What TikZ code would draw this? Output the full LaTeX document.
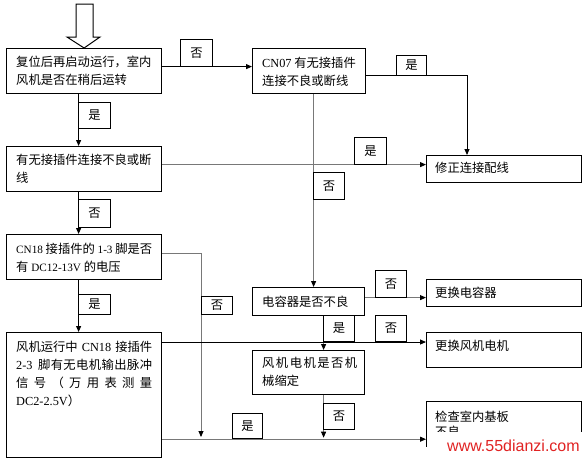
\documentclass[tikz,border=0pt]{standalone}
\usepackage{fontspec}
\setmainfont{Noto Sans CJK SC}
\newfontfamily\latf{Liberation Serif}
\newfontfamily\wmf{Liberation Sans}
\newcommand\lat[1]{{\latf #1}}
\newcommand\slat[1]{{\latf\fontsize{11.2}{18}\selectfont #1}}
\usetikzlibrary{arrows.meta}
\definecolor{lg}{RGB}{120,120,120}
\definecolor{wm}{RGB}{225,35,35}
\tikzset{
  box/.style={draw=black, line width=1.2pt, inner sep=0pt, anchor=north west},
  lab/.style={draw=black, line width=0.9pt, inner sep=0pt, anchor=north west, font=\fontsize{12.3}{14}\selectfont},
  txt/.style={inner sep=0pt, anchor=base west, font=\fontsize{12.3}{18}\selectfont},
  ln/.style={line width=0.9pt, draw=black},
  lng/.style={line width=0.9pt, draw=lg},
  arr/.style={-{Triangle[length=6pt,width=5pt,color=black]}}
}
\begin{document}
\begin{tikzpicture}[x=1pt,y=-1pt]
\useasboundingbox (0,0) rectangle (582,459);
\fill[white] (0,0) rectangle (582,459);

% boxes
\node[box, minimum width=155pt, minimum height=45pt] (A) at (6,48) {};
\node[box, minimum width=113pt, minimum height=45pt] (B) at (252,48) {};
\node[box, minimum width=155pt, minimum height=45pt] (C) at (6,146) {};
\node[box, minimum width=155pt, minimum height=45pt] (E) at (6,234) {};
\node[box, minimum width=155pt, minimum height=125pt] (G) at (6,332) {};
\node[box, minimum width=155pt, minimum height=27pt] (F) at (426,155) {};
\node[box, minimum width=112pt, minimum height=28pt] (D) at (252,287) {};
\node[box, minimum width=155pt, minimum height=27pt] (Cap) at (426,279) {};
\node[box, minimum width=112pt, minimum height=44pt] (M) at (252,350) {};
\node[box, minimum width=155pt, minimum height=35pt] (R) at (426,332) {};
\node[box, minimum width=155pt, minimum height=70pt] (K) at (426,401) {};

% texts
\node[txt] (At) at (16,66.7) {\parbox[t]{200pt}{复位后再启动运行，室内\\风机是否在稍后运转}};
\node[txt] (Bt) at (262,67.7) {\parbox[t]{200pt}{\lat{CN07} 有无接插件\\连接不良或断线}};
\node[txt] (Ct) at (16,164.7) {\parbox[t]{200pt}{有无接插件连接不良或断\\线}};
\node[txt] (Et) at (16,253.7) {\parbox[t]{200pt}{\slat{CN18} 接插件的 \slat{1-3} 脚是否\\有 \slat{DC12-13V} 的电压}};
\node[txt] (Ft) at (435,172.7) {修正连接配线};
\node[txt] (Dt) at (262,306.7) {电容器是否不良};
\node[txt] (Capt) at (435,297.7) {更换电容器};
\node[txt] (Rt) at (435,350.7) {更换风机电机};
\node[txt] (Mt) at (262,367.7) {\parbox[t]{200pt}{\makebox[95pt][s]{风\hfill 机\hfill 电\hfill 机\hfill 是\hfill 否\hfill 机}\\械缩定}};
\node[txt] (Kt) at (435,421.7) {\parbox[t]{200pt}{检查室内基板\\[-3.5pt]不良}};
\node[txt] (Gt) at (16,351.7) {\parbox[t]{200pt}{%
\makebox[136pt][s]{风机运行中\hfill\lat{CN18}\hfill 接插件}\\
\makebox[136pt][s]{\lat{2-3}\hspace{5pt}\hfill 脚\hfill 有\hfill 无\hfill 电\hfill 机\hfill 输\hfill 出\hfill 脉\hfill 冲}\\
\makebox[136pt][s]{信\hfill 号\hfill （\hfill 万\hfill 用\hfill 表\hfill 测\hfill 量}\\
\lat{DC2-2.5V}）}};

% top hollow arrow
\draw[line width=1pt, fill=white] (76,4) -- (93,4) -- (93,37) -- (100,37) -- (A.north) -- (67,37) -- (76,37) -- cycle;

% connector coordinates
\coordinate (a1) at ([yshift=4.5pt]A.east);
\coordinate (b1) at ([yshift=-4.5pt]B.east);
\coordinate (f1) at (467,155);
\coordinate (a2) at ([xshift=-5.5pt]A.south);
\coordinate (c1) at ([yshift=4.5pt]C.east);
\coordinate (b2) at ([xshift=4.5pt]B.south);
\coordinate (c2) at ([xshift=-5.5pt]C.south);
\coordinate (e1) at ([yshift=3.5pt]E.east);
\coordinate (eend) at (201,437);
\coordinate (e2) at ([xshift=-5.5pt]E.south);
\coordinate (d1) at ([yshift=4pt]D.east);
\coordinate (d2) at ([xshift=15pt]D.south);
\coordinate (g1) at ([yshift=-10pt]G.north east);
\coordinate (m1) at ([xshift=15pt]M.south);
\coordinate (g2) at ([yshift=19pt]G.south east);

% connectors
\draw[ln, arr] (a1) -- (a1 -| B.west);
\draw[ln, arr] (b1) -| (f1);
\draw[ln, arr] (a2) -- (a2 |- C.north);
\draw[lng, arr] (c1) -- (c1 -| F.west);
\draw[lng, arr] (b2) -- (b2 |- D.north);
\draw[ln, arr] (c2) -- (c2 |- E.north);
\draw[lng, arr] (e1) -| (eend);
\draw[ln, arr] (e2) -- (e2 |- G.north);
\draw[lng, arr] (d1) -- (d1 -| Cap.west);
\draw[lng, arr] (d2) -- (d2 |- M.north);
\draw[ln, arr] (g1) -- (g1 -| R.west);
\draw[lng, arr] (m1) -- ([yshift=1.5pt]m1 |- g2);
\draw[lng, arr] (g2) -- (g2 -| K.west);

% labels
\node[lab, minimum width=32pt, minimum height=27pt] (L1) at (180,39) {否};
\node[lab, minimum width=30pt, minimum height=20pt] (L2) at (396,55) {是};
\node[lab, minimum width=32pt, minimum height=26pt] (L3) at (78,102) {是};
\node[lab, minimum width=32pt, minimum height=27pt] (L4) at (354,137) {是};
\node[lab, minimum width=31pt, minimum height=27pt] (L5) at (313,172) {否};
\node[lab, minimum width=32pt, minimum height=28pt] (L6) at (78,199) {否};
\node[lab, minimum width=31pt, minimum height=18pt] (L7) at (201,296) {否};
\node[lab, minimum width=32pt, minimum height=20pt] (L8) at (78,294) {是};
\node[lab, minimum width=31pt, minimum height=27pt] (L9) at (375,270) {否};
\node[lab, minimum width=31pt, minimum height=26pt] (L10) at (323,315) {是};
\node[lab, minimum width=31pt, minimum height=26pt] (L11) at (375,315) {否};
\node[lab, minimum width=31pt, minimum height=26pt] (L12) at (323,403) {否};
\node[lab, minimum width=30pt, minimum height=25pt] (L13) at (232,413) {是};

% watermark
\fill[white] (430,432) rectangle (583,460);
\fill[white] (420,447) rectangle (583,460);
\node[anchor=base west, inner sep=0pt, text=wm, font=\wmf\fontsize{16}{16}\selectfont] (wmk) at (447,451) {www.55dianzi.com};
\end{tikzpicture}
\end{document}
